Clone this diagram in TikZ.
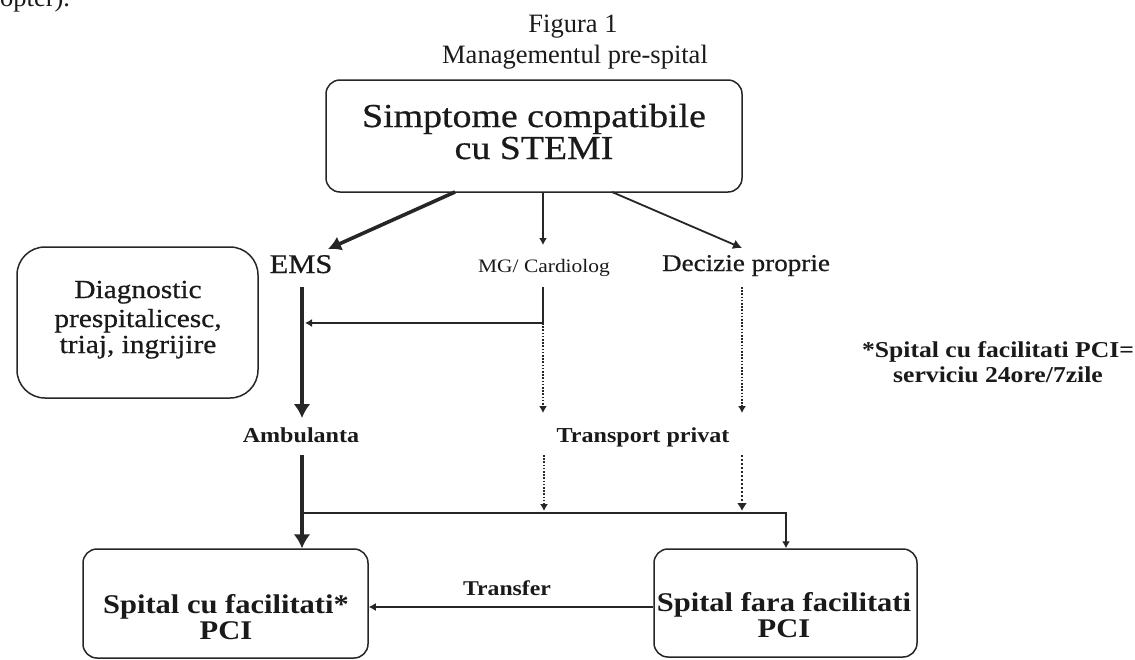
\documentclass[tikz,border=0pt]{standalone}
\usepackage{fontspec}
\setmainfont{Liberation Serif}
\newfontfamily\figf{Liberation Serif}[FakeStretch=1.13]
\newfontfamily\figm{Liberation Serif}[FakeStretch=1.13,FakeBold=0.6]
\usetikzlibrary{arrows.meta}
\newcommand\fsz[1]{\fontsize{#1}{#1}\selectfont}
\definecolor{ink}{HTML}{1A1A1A}
\definecolor{lineink}{HTML}{262626}
\tikzset{
  box/.style={draw=lineink, line width=1.5pt, rounded corners=14pt, inner sep=0pt},
  txt/.style={anchor=base, inner sep=0pt, text=ink},
  ln/.style={draw=lineink, line width=1.3pt},
  heavy/.style={draw=lineink, line width=4.2pt},
  dots/.style={draw=lineink, line width=1.3pt, dash pattern=on 1.6pt off 1.6pt},
  tipS/.style={-{Latex[length=7pt,width=8pt]}},
  tipL/.style={-{Latex[length=14pt,width=17pt]}},
}
\begin{document}
\begin{tikzpicture}[x=1pt,y=-1pt]
\useasboundingbox (0,0) rectangle (1135,659);
\fill[white] (0,0) rectangle (1135,659);

% cut-off text at the very top (as in the reference)
\begin{scope}
\clip (0,0) rectangle (1135,659);
\node[txt, anchor=base west, font=\fsz{26.5}] (opt) at (0,6.5) {opter).};
\end{scope}

% title
\node[txt, font=\fsz{26.5}] (fig) at (573,32) {Figura 1};
\node[txt, font=\fsz{26.5}] (man) at (575,63) {Managementul pre-spital};

% boxes
\node[box, minimum width=416pt, minimum height=112pt] (top) at (534,136) {};
\node[txt, font=\figm\fsz{33.5}] (t1) at (534,127) {Simptome compatibile};
\node[txt, font=\figm\fsz{33.5}] (t2) at (534,159) {cu STEMI};

\node[box, rounded corners=28pt, minimum width=241pt, minimum height=151pt] (diag) at (137.5,322.5) {};
\node[txt, font=\figm\fsz{26}] (d1) at (138,298) {Diagnostic};
\node[txt, font=\figm\fsz{26}] (d2) at (138,327) {prespitalicesc,};
\node[txt, font=\figm\fsz{26}] (d3) at (138,353) {triaj, ingrijire};

\node[box, minimum width=285pt, minimum height=109pt] (lh) at (225.5,603.5) {};
\node[txt, font=\figf\bfseries\fsz{27}] (l1) at (226,613) {Spital cu facilitati*};
\node[txt, font=\figf\bfseries\fsz{27}] (l2) at (226,639) {PCI};

\node[box, minimum width=263pt, minimum height=108pt] (rh) at (785.5,603) {};
\node[txt, font=\figf\bfseries\fsz{27}] (r1) at (784,611) {Spital fara facilitati};
\node[txt, font=\figf\bfseries\fsz{27}] (r2) at (784,637) {PCI};

% labels
\node[txt, font=\figm\fsz{27}] (ems) at (301,273) {EMS};
\node[txt, font=\figf\fsz{19}] (mg) at (544,272) {MG/ Cardiolog};
\node[txt, font=\figm\fsz{24}] (dec) at (746,271) {Decizie proprie};
\node[txt, font=\figf\bfseries\fsz{21.3}] (amb) at (301,442) {Ambulanta};
\node[txt, font=\figf\bfseries\fsz{21.3}] (tp) at (643,442) {Transport privat};
\node[txt, font=\figf\bfseries\fsz{21}] (trf) at (507,595) {Transfer};
\node[txt, font=\figf\bfseries\fsz{22.7}] (fn1) at (998,357) {*Spital cu facilitati PCI=};
\node[txt, font=\figf\bfseries\fsz{22.7}] (fn2) at (998,382) {serviciu 24ore/7zile};

% connector end points
\coordinate (a1) at (455,192);  \coordinate (a2) at (328,249);
\coordinate (b1) at (543,192);  \coordinate (b2) at (543,245);
\coordinate (c1) at (612,192);  \coordinate (c2) at (742,248);
\coordinate (e1) at (302,287);  \coordinate (e2) at (302,418);
\coordinate (m1) at (543,287);  \coordinate (m2) at (543,323);  \coordinate (m3) at (305,323);
\coordinate (m4) at (543,413);
\coordinate (p1) at (742,287);  \coordinate (p2) at (742,413);
\coordinate (f1) at (302,455);
\coordinate (g1) at (544,455);  \coordinate (g2) at (544,511);
\coordinate (h1) at (742,455);  \coordinate (h2) at (742,511);
\coordinate (k1) at (304,513);  \coordinate (k2) at (786,513);

% connectors
\draw[ln, line width=3.6pt, -{Latex[length=13pt,width=15pt]}] (a1) -- (a2);
\draw[ln, tipS] (b1) -- (b2);
\draw[ln, line width=1.8pt, -{Latex[length=9pt,width=10pt]}] (c1) -- (c2);

\draw[heavy, tipL] (e1) -- (e2);
\draw[ln] (m1) -- (m2);
\draw[ln, tipS] (m2) -- (m3);
\draw[dots, tipS] (m2) -- (m4);
\draw[dots, tipS] (p1) -- (p2);

\draw[heavy, tipL] (f1) -- (lh.north -| f1);
\draw[dots, tipS] (g1) -- (g2);
\draw[dots, line width=2.4pt, dash pattern=on 2pt off 2pt, -{Latex[length=8pt,width=10pt]}] (h1) -- (h2);
\draw[ln, tipS] (k1) -- (k2) -- (rh.north -| k2);
\draw[ln, tipS] (rh.west |- 0,607) -- (lh.east |- 0,607);
\end{tikzpicture}
\end{document}
